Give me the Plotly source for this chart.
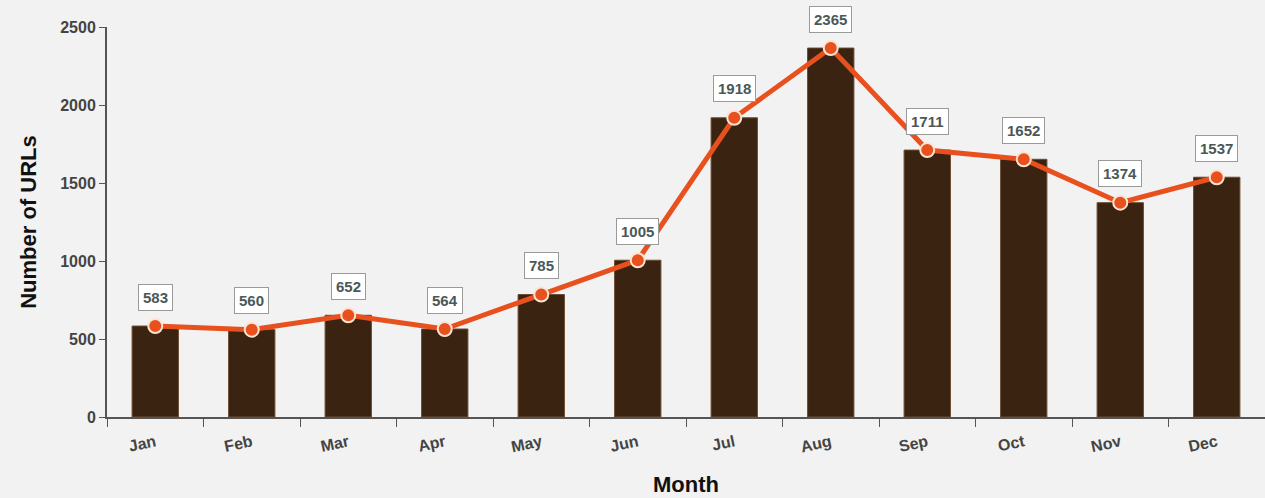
import plotly.graph_objects as go

months = ["Jan", "Feb", "Mar", "Apr", "May", "Jun", "Jul", "Aug", "Sep", "Oct", "Nov", "Dec"]
urls = [583, 560, 652, 564, 785, 1005, 1918, 2365, 1711, 1652, 1374, 1537]
y_ticks = [0, 500, 1000, 1500, 2000, 2500]

FONT = "Liberation Sans, Arial"

fig = go.Figure()
fig.add_trace(go.Bar(x=months, y=urls, width=0.48,
                     marker=dict(color="#3a2310", line=dict(color="#6b4a30", width=1)),
                     hoverinfo="skip", showlegend=False))
fig.add_trace(go.Scatter(x=months, y=urls, mode="lines+markers",
                         line=dict(color="#e8501e", width=5),
                         marker=dict(size=14, color="#e8501e", line=dict(color="#fde3d2", width=2)),
                         showlegend=False))

for m, v in zip(months, urls):
    fig.add_annotation(x=m, y=v, text=str(v), showarrow=False, yshift=29,
                       bgcolor="white", bordercolor="#9a9a9a", borderwidth=1, borderpad=4,
                       font=dict(family=FONT, size=15, color="#4a5858", weight="bold"))

fig.update_layout(
    width=1265, height=498,
    margin=dict(l=107, r=0, t=27, b=81),
    paper_bgcolor="#f2f2f2", plot_bgcolor="#f2f2f2",
    xaxis=dict(
        title=dict(text="Month", font=dict(family=FONT, size=22, color="#111", weight="bold"), standoff=22),
        tickangle=-12, tickson="boundaries", ticks="outside", ticklen=8, tickcolor="#555",
        ticklabelstandoff=8,
        tickfont=dict(family=FONT, size=16, color="#444", weight="bold"),
        showline=True, linecolor="#555", linewidth=2, showgrid=False, range=[-0.5, 11.5],
    ),
    yaxis=dict(
        title=dict(text="Number of URLs", font=dict(family=FONT, size=22, color="#111", weight="bold"), standoff=18),
        range=[0, 2500], tickvals=y_ticks, ticks="outside", ticklen=6, tickcolor="#555",
        tickfont=dict(family=FONT, size=16, color="#444", weight="bold"),
        showline=True, linecolor="#555", linewidth=2, showgrid=False, zeroline=False,
    ),
)

fig.write_html("out.html")
